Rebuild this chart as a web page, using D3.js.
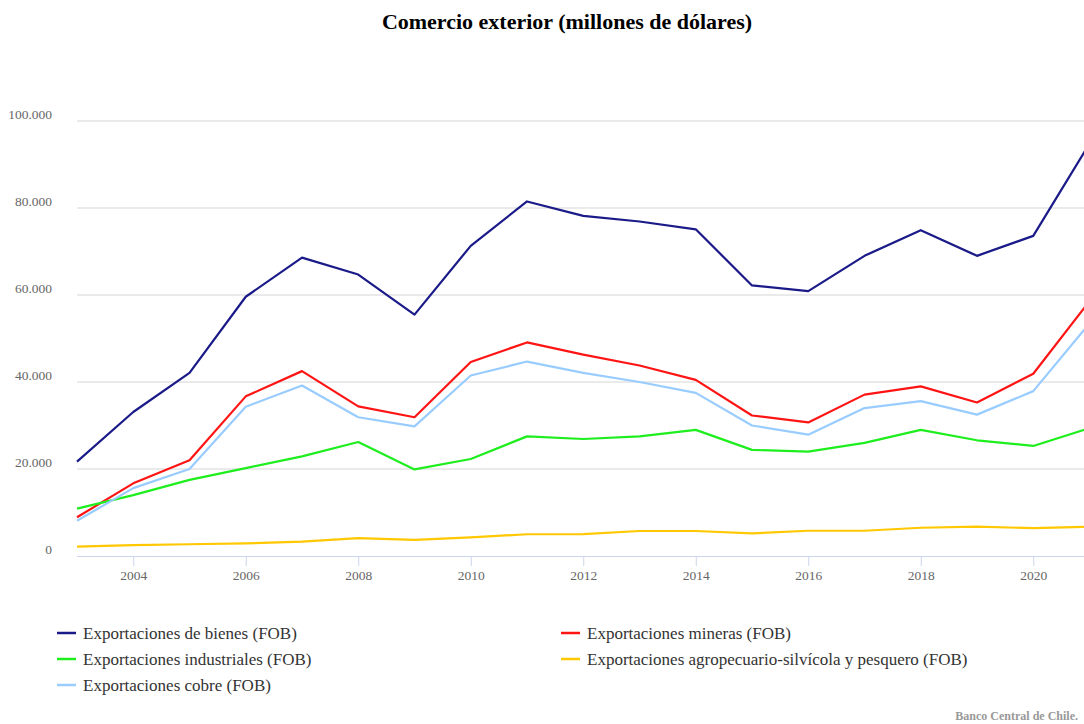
<!DOCTYPE html>
<html>
<head>
<meta charset="utf-8">
<script src="https://cdn.jsdelivr.net/npm/d3@7/dist/d3.min.js"></script>
<style>
  body { margin: 0; background: #fff; }
  svg { display: block; font-family: "Liberation Serif", "Times New Roman", serif; }
</style>
</head>
<body>
<svg id="chart" width="1084" height="724"></svg>
<script>
// years on the x axis
const years = d3.range(2003, 2022);
const tickYears = [2004, 2006, 2008, 2010, 2012, 2014, 2016, 2018, 2020];
const yTicks = [0, 20000, 40000, 60000, 80000, 100000];

// series values (millones de dólares)
const bienes = [21700, 33100, 42100, 59600, 68600, 64700, 55500, 71300, 81500, 78200, 76900, 75100, 62200, 60900, 69000, 74900, 69000, 73600, 94800];
const mineras = [8900, 16700, 22000, 36700, 42500, 34400, 31900, 44600, 49100, 46300, 43800, 40500, 32300, 30700, 37100, 39000, 35300, 41900, 58600];
const industriales = [10900, 14000, 17500, 20200, 22900, 26200, 19900, 22300, 27500, 26900, 27500, 29000, 24400, 24000, 26000, 29000, 26600, 25300, 29400];
const agro = [2150, 2500, 2700, 2900, 3300, 4100, 3700, 4300, 5000, 5050, 5750, 5750, 5200, 5800, 5800, 6500, 6750, 6400, 6750];
const cobre = [8100, 15600, 20000, 34300, 39200, 31900, 29800, 41500, 44700, 42100, 40000, 37500, 30000, 27900, 34000, 35600, 32500, 37900, 53500];

const seriesNames = [
  "Exportaciones de bienes (FOB)",
  "Exportaciones mineras (FOB)",
  "Exportaciones industriales (FOB)",
  "Exportaciones agropecuario-silvícola y pesquero (FOB)",
  "Exportaciones cobre (FOB)"
];
const seriesColors = ["#1a1a88", "#ff1414", "#1eee1e", "#ffc800", "#99ccff"];
const seriesValues = [bienes, mineras, industriales, agro, cobre];

const series = seriesNames.map((name, i) => ({ name, color: seriesColors[i], values: seriesValues[i] }));

const svg = d3.select("#chart");
const W = 1084;

const x = d3.scaleLinear().domain([2003, 2021]).range([77, 1089.5]);
const y = d3.scaleLinear().domain([0, 100000]).range([556, 121]);

const fmt = v => d3.format(",")(v).replace(/,/g, ".");

// title
svg.append("text")
  .attr("x", 567)
  .attr("y", 29)
  .attr("text-anchor", "middle")
  .style("font-size", "22px")
  .style("font-weight", "bold")
  .style("fill", "#000")
  .text("Comercio exterior (millones de dólares)");

// grid lines
svg.append("g")
  .selectAll("line")
  .data(yTicks.filter(d => d > 0))
  .enter()
  .append("line")
  .attr("x1", 77)
  .attr("x2", W)
  .attr("y1", d => y(d))
  .attr("y2", d => y(d))
  .attr("stroke", "#e3e3e3")
  .attr("stroke-width", 1.5);

// y labels
svg.append("g")
  .selectAll("text")
  .data(yTicks)
  .enter()
  .append("text")
  .attr("x", 52)
  .attr("y", d => y(d) - 2)
  .attr("text-anchor", "end")
  .style("font-size", "13.5px")
  .style("fill", "#666")
  .text(d => fmt(d));

// x axis
const xAxis = d3.axisBottom(x)
  .tickValues(tickYears)
  .tickFormat(d3.format("d"))
  .tickSize(10)
  .tickSizeOuter(0);

const gx = svg.append("g")
  .attr("transform", "translate(0,556)")
  .call(xAxis);
gx.select(".domain").attr("stroke", "#ccd6eb").attr("d", `M77,0.5H${W}`);
gx.selectAll(".tick line").attr("stroke", "#ccd6eb");
gx.selectAll(".tick text")
  .attr("y", 14)
  .style("font-family", "'Liberation Serif', 'Times New Roman', serif")
  .style("font-size", "13.5px")
  .style("fill", "#666");

// lines
const line = d3.line()
  .x((d, i) => x(years[i]))
  .y(d => y(d));

svg.append("g")
  .selectAll("path")
  .data(series)
  .enter()
  .append("path")
  .attr("d", d => line(d.values))
  .attr("fill", "none")
  .attr("stroke", d => d.color)
  .attr("stroke-width", 2.2)
  .attr("stroke-linejoin", "round");

// legend (two columns, filled row by row)
const legend = svg.append("g");
series.forEach((s, i) => {
  const col = i % 2;
  const row = Math.floor(i / 2);
  const lx = col === 0 ? 57 : 561;
  const ly = 633 + row * 26;
  const g = legend.append("g");
  g.append("line")
    .attr("x1", lx)
    .attr("x2", lx + 19)
    .attr("y1", ly)
    .attr("y2", ly)
    .attr("stroke", s.color)
    .attr("stroke-width", 2.5);
  g.append("text")
    .attr("x", lx + 26)
    .attr("y", ly + 5.5)
    .style("font-size", "17px")
    .style("fill", "#333")
    .text(s.name);
});

// credits
svg.append("text")
  .attr("x", 1078)
  .attr("y", 720)
  .attr("text-anchor", "end")
  .style("font-size", "12px")
  .style("font-weight", "bold")
  .style("fill", "#999")
  .text("Banco Central de Chile.");
</script>
</body>
</html>
